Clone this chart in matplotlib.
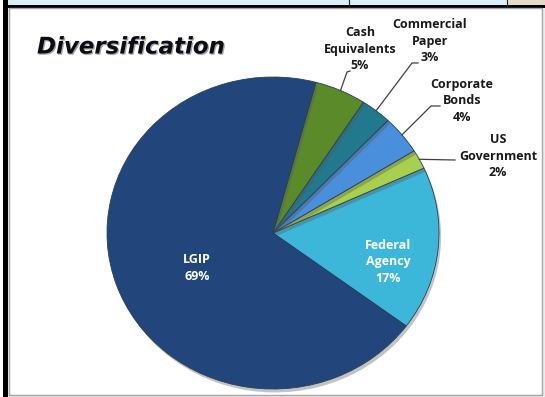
import numpy as np
import matplotlib
matplotlib.use("Agg")
import matplotlib.pyplot as plt
from matplotlib.patches import Rectangle
import matplotlib.patheffects as pe

# ---- data ----
categories = ["Federal Agency", "US Government", "Corporate Bonds",
              "Commercial Paper", "Cash Equivalents", "LGIP"]
label_text = ["Federal\nAgency", "US\nGovernment", "Corporate\nBonds",
              "Commercial\nPaper", "Cash\nEquivalents", "LGIP"]
values = [17, 2, 4, 3, 5, 69]
colors = ["#3db7d9", "#a8cf4e", "#4a8fdc", "#22798e", "#5b8a2b", "#22467b"]
title = "Diversification"

W, H = 545, 397
fig = plt.figure(figsize=(W / 100, H / 100), dpi=100)
fig.patch.set_facecolor("white")

# background / frame axes in pixel coordinates
bg = fig.add_axes([0, 0, 1, 1], zorder=0)
bg.set_xlim(0, W)
bg.set_ylim(H, 0)
bg.axis("off")
bg.add_patch(Rectangle((0, 0), W, H, facecolor="#ececec", edgecolor="none"))
# top strip (spreadsheet cells)
bg.add_patch(Rectangle((0, 0), 507, 5.5, facecolor="#daeef5", edgecolor="none"))
bg.add_patch(Rectangle((507, 0), W - 507, 5.5, facecolor="#e3dcc6", edgecolor="none"))
bg.plot([349, 349], [0, 5.5], color="#222222", lw=0.8)
bg.plot([507, 507], [0, 5.5], color="#222222", lw=0.8)
bg.add_patch(Rectangle((0, 5), W, 2.5, facecolor="black", edgecolor="none"))
# chart area
bg.add_patch(Rectangle((9, 8), 533, 387, facecolor="white", edgecolor="#a6a6a6", lw=1))
# left thick black border
bg.add_patch(Rectangle((3, 0), 5, H, facecolor="black", edgecolor="none"))
bg.add_patch(Rectangle((0, 0), 3, H, facecolor="white", edgecolor="none"))

# pie geometry (pixels)
CX, CY, RX, RY = 273, 233, 166, 156
ax = fig.add_axes([(CX - RX) / W, (H - CY - RY) / H, 2 * RX / W, 2 * RY / H], zorder=1)
wedges, _ = ax.pie(values, colors=colors, startangle=-36.6, counterclock=True,
                   radius=1.0,
                   wedgeprops=dict(edgecolor="#2a3f55", linewidth=0.6))
for w in wedges:
    w.set_path_effects([pe.SimplePatchShadow(offset=(1.5, -2.5), shadow_rgbFace="#555555", alpha=0.35),
                        pe.Normal()])
ax.set_aspect("auto")
ax.set_xlim(-1, 1)
ax.set_ylim(-1, 1)
ax.axis("off")

# overlay for texts
ov = fig.add_axes([0, 0, 1, 1], zorder=2)
ov.set_xlim(0, W)
ov.set_ylim(H, 0)
ov.axis("off")
ov.patch.set_alpha(0)

font = "Open Sans"
ov.text(37, 47, title, fontsize=16.5, fontweight="bold", fontstyle="italic",
        family="DejaVu Sans", color="#0b0b1a", va="center", ha="left",
        path_effects=[pe.withSimplePatchShadow(offset=(0.9, -0.9), shadow_rgbFace="#6a5a40", alpha=0.55)])

def mid_point(w, r=1.0):
    th = np.deg2rad((w.theta1 + w.theta2) / 2)
    return CX + RX * r * np.cos(th), CY - RY * r * np.sin(th)

# outside labels: (text center, elbow points)
outside = {
    4: dict(xy=(360, 49), path=[(347, 72), (350, 71)]),
    3: dict(xy=(430, 41), path=[(412, 63), (418, 63)]),
    2: dict(xy=(462, 101), path=[(431, 106), (440, 106)]),
    1: dict(xy=(498, 156), path=[(455, 160)]),
}
for i, spec in outside.items():
    x0, y0 = mid_point(wedges[i], 1.0)
    pts = [(x0, y0)] + spec["path"]
    ov.plot([p[0] for p in pts], [p[1] for p in pts], color="#404040", lw=0.9)
    ov.text(spec["xy"][0], spec["xy"][1], f"{label_text[i]}\n{values[i]}%",
            ha="center", va="center", fontsize=9, fontweight="bold", family=font,
            color="#1a1a1a", linespacing=1.35)

# inside labels
ov.text(197, 268, f"{label_text[5]}\n{values[5]}%", ha="center", va="center",
        fontsize=9, fontweight="bold", family=font, color="white", linespacing=1.35)
ov.text(388, 262, f"{label_text[0]}\n{values[0]}%", ha="center", va="center",
        fontsize=9, fontweight="bold", family=font, color="white", linespacing=1.35)

fig.savefig("out.png", dpi=100)
